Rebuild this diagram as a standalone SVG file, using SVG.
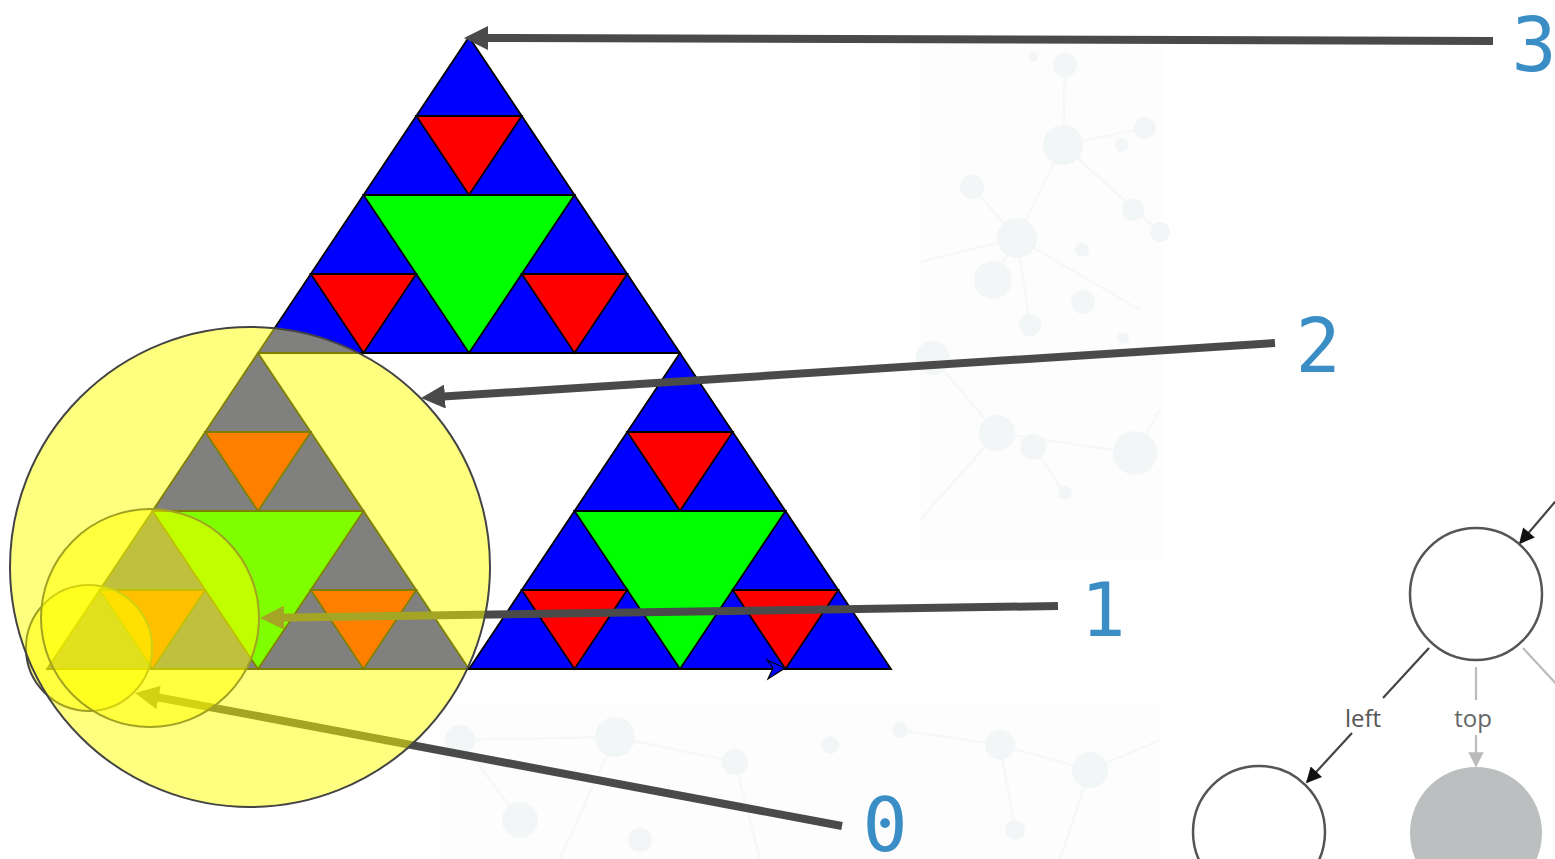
<svg xmlns="http://www.w3.org/2000/svg" xmlns:xlink="http://www.w3.org/1999/xlink" width="1555" height="859" viewBox="0 0 1555 859">
<style>
.tri{stroke:#000;stroke-width:1.8;stroke-linejoin:miter}
.blue{fill:#0000ff}.red{fill:#ff0000}.green{fill:#00ff00}
.conn{fill:none;stroke:#4a4a4a;stroke-width:8}
.halo{fill:#ffff00;fill-opacity:0.5;stroke:#444;stroke-width:2}
.lbl{font-family:"DejaVu Sans Mono","Liberation Mono",monospace;font-size:75px;fill:#3a8dc5;text-anchor:middle}
.bgc{fill:#f1f4f6}
.bgl{stroke:#f4f6f8;stroke-width:2.5;fill:none}
.tnode{fill:#fff;stroke:#555;stroke-width:2.5}
.tedge{fill:none;stroke:#444;stroke-width:2.2}
.tedge2{fill:none;stroke:#bbb;stroke-width:2.2}
.tlbl{font-family:"Open Sans","Liberation Sans",sans-serif;font-size:24px;text-anchor:middle}
</style>
<defs>
<marker id="ah" viewBox="0 0 10 10" refX="4" refY="5" markerWidth="3" markerHeight="3" orient="auto" markerUnits="strokeWidth">
<path d="M0,0 L10,5 L0,10 Z" fill="#4a4a4a"/>
</marker>
<marker id="ahb" viewBox="0 0 10 10" refX="9" refY="5" markerWidth="8" markerHeight="7" orient="auto" markerUnits="strokeWidth">
<path d="M0,0 L10,5 L0,10 Z" fill="#111"/>
</marker>
<marker id="ahg" viewBox="0 0 10 10" refX="9" refY="5" markerWidth="8" markerHeight="7" orient="auto" markerUnits="strokeWidth">
<path d="M0,0 L10,5 L0,10 Z" fill="#bbb"/>
</marker>
<g id="sub" class="tri">
<polygon class="blue" points="0,0 -211,316 211,316"/>
<polygon class="green" points="-105.5,158 105.5,158 0,316"/>
<polygon class="red" points="-52.75,79 52.75,79 0,158"/>
<polygon class="red" points="-158.25,237 -52.75,237 -105.5,316"/>
<polygon class="red" points="52.75,237 158.25,237 105.5,316"/>
</g>
</defs>
<rect width="1555" height="859" fill="#fff"/>
<g id="background" opacity="0.8">
<rect x="919" y="40" width="243" height="520" fill="#fdfdfe"/>
<rect x="440" y="703" width="720" height="156" fill="#fdfdfe"/>
<g class="bgl">
<line x1="1063" y1="145" x2="1065" y2="65"/><line x1="1063" y1="145" x2="1145" y2="128"/>
<line x1="1063" y1="145" x2="1017" y2="238"/><line x1="1063" y1="145" x2="1160" y2="232"/>
<line x1="1017" y1="238" x2="972" y2="187"/><line x1="1017" y1="238" x2="993" y2="280"/>
<line x1="1017" y1="238" x2="920" y2="262"/><line x1="1017" y1="238" x2="1140" y2="310"/>
<line x1="1017" y1="238" x2="1030" y2="325"/><line x1="933" y1="358" x2="997" y2="433"/>
<line x1="997" y1="433" x2="1135" y2="453"/><line x1="1033" y1="447" x2="1065" y2="493"/>
<line x1="997" y1="433" x2="920" y2="520"/><line x1="1135" y1="453" x2="1160" y2="410"/>
<line x1="460" y1="740" x2="615" y2="737"/><line x1="615" y1="737" x2="735" y2="762"/>
<line x1="615" y1="737" x2="560" y2="859"/><line x1="735" y1="762" x2="760" y2="859"/>
<line x1="460" y1="740" x2="520" y2="820"/><line x1="900" y1="730" x2="1000" y2="745"/>
<line x1="1000" y1="745" x2="1090" y2="770"/><line x1="1090" y1="770" x2="1060" y2="859"/>
<line x1="1000" y1="745" x2="1015" y2="830"/><line x1="1090" y1="770" x2="1160" y2="740"/>
</g>
<g class="bgc">
<circle cx="1063" cy="145" r="20"/><circle cx="1017" cy="238" r="20"/><circle cx="1145" cy="128" r="11"/>
<circle cx="1065" cy="65" r="12"/><circle cx="972" cy="187" r="12"/><circle cx="993" cy="280" r="19"/>
<circle cx="1033" cy="57" r="5"/><circle cx="1122" cy="145" r="7"/><circle cx="1133" cy="210" r="11"/>
<circle cx="1160" cy="232" r="10"/><circle cx="1082" cy="250" r="7"/><circle cx="1083" cy="302" r="12"/>
<circle cx="1030" cy="325" r="11"/><circle cx="1123" cy="338" r="6"/><circle cx="933" cy="358" r="17"/>
<circle cx="997" cy="433" r="18"/><circle cx="1033" cy="447" r="13"/><circle cx="1135" cy="453" r="22"/>
<circle cx="1065" cy="493" r="7"/>
<circle cx="460" cy="740" r="15"/><circle cx="615" cy="737" r="20"/><circle cx="735" cy="762" r="13"/>
<circle cx="520" cy="820" r="18"/><circle cx="640" cy="840" r="12"/><circle cx="900" cy="730" r="8"/>
<circle cx="1000" cy="745" r="15"/><circle cx="1090" cy="770" r="18"/><circle cx="1015" cy="830" r="10"/>
<circle cx="830" cy="745" r="9"/>
</g>
</g>
<g id="sierpinski">
<g id="tri-top"><use xlink:href="#sub" x="469" y="37"/></g>
<g id="tri-left"><use xlink:href="#sub" x="258" y="353"/></g>
<g id="tri-right"><use xlink:href="#sub" x="680" y="353"/></g>
</g>
<g id="connectors">
<line class="conn" x1="1493" y1="41" x2="478.4" y2="38" marker-end="url(#ah)"/>
<line class="conn" x1="1275" y1="343" x2="435.4" y2="397.1" marker-end="url(#ah)"/>
<line class="conn" x1="1058" y1="606" x2="274.4" y2="617.8" marker-end="url(#ah)"/>
<line class="conn" x1="842" y1="826" x2="149.2" y2="695.7" marker-end="url(#ah)"/>
</g>
<path id="stray-head" d="M767,660 L785,668 L768,679 L773,668 Z" fill="#0000ff" stroke="#000" stroke-width="1.2"/>
<g id="level-0"><circle class="halo" cx="89" cy="648" r="63"/></g>
<g id="level-1"><circle class="halo" cx="150" cy="618" r="109"/></g>
<g id="level-2"><circle class="halo" cx="250" cy="567" r="240"/></g>
<g id="labels">
<g id="label-3"><text class="lbl" x="1534" y="71">3</text></g>
<g id="label-2"><text class="lbl" x="1318" y="372">2</text></g>
<g id="label-1"><text class="lbl" x="1103" y="636">1</text></g>
<g id="label-0"><text class="lbl" x="885" y="851">0</text></g>
</g>
<g id="tree">
<g id="tree-edges">
<line class="tedge" x1="1560" y1="496" x2="1520" y2="543" marker-end="url(#ahb)"/>
<line class="tedge" x1="1429" y1="648" x2="1383" y2="698"/>
<line class="tedge" x1="1352" y1="733" x2="1307" y2="782" marker-end="url(#ahb)"/>
<line class="tedge2" x1="1476" y1="667" x2="1476" y2="700"/>
<line class="tedge2" x1="1476" y1="735" x2="1476" y2="766" marker-end="url(#ahg)"/>
<line class="tedge2" x1="1523" y1="648" x2="1560" y2="688"/>
<text class="tlbl" x="1363" y="727" fill="#555">left</text>
<text class="tlbl" x="1473" y="727" fill="#666">top</text>
</g>
<g id="tree-root"><circle class="tnode" cx="1476" cy="594" r="66"/></g>
<g id="tree-left"><circle class="tnode" cx="1259" cy="832" r="66"/></g>
<g id="tree-top"><circle cx="1476" cy="833" r="66" fill="#bcbfbf"/></g>
</g>
</svg>
